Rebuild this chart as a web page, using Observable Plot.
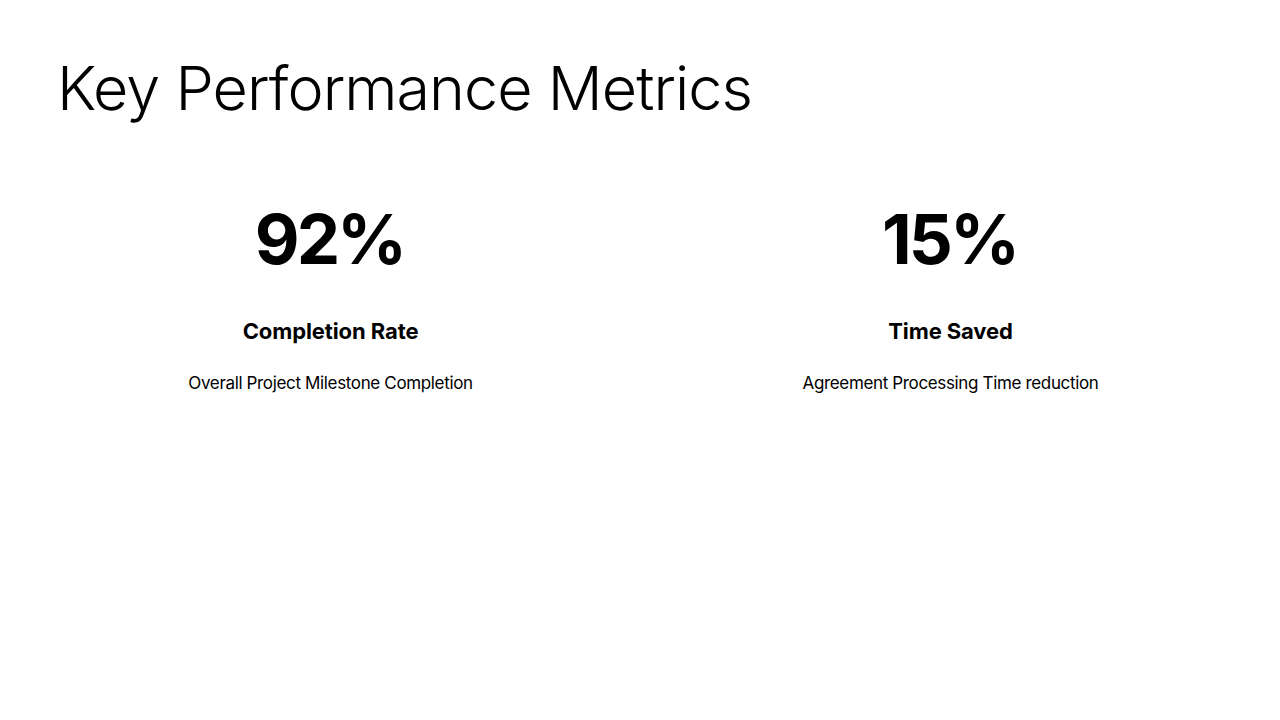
<!DOCTYPE html>
<html>
<head>
<meta charset="utf-8">
<script src="https://cdn.jsdelivr.net/npm/d3@7"></script>
<script src="https://cdn.jsdelivr.net/npm/@observablehq/plot@0.6"></script>
<style>
  html, body { margin: 0; padding: 0; background: #fff; }
  #wrap { position: relative; width: 1280px; height: 720px; overflow: hidden; font-family: Inter, "Noto Sans", sans-serif; }
  h1 { position: absolute; left: 57px; top: 58px; margin: 0; font-size: 61px; line-height: 1; font-weight: 300; color: #000; letter-spacing: -0.95px; white-space: nowrap; }
  #chart { position: absolute; left: 0; top: 0; }
  .kpi-value text { letter-spacing: -3px; }
  .kpi-label text { letter-spacing: -0.1px; }
  .kpi-desc text { letter-spacing: -0.35px; }
</style>
</head>
<body>
<div id="wrap">
  <h1 id="title">Key Performance Metrics</h1>
  <div id="chart"></div>
</div>
<script>
const titleText = "Key Performance Metrics";
const metricLabels = ["Completion Rate", "Time Saved"];
const metricValues = [92, 15];
const metricUnits = ["%", "%"];
const metricDescriptions = ["Overall Project Milestone Completion", "Agreement Processing Time reduction"];

document.getElementById("title").textContent = titleText;

const rows = metricLabels.map((label, i) => ({
  label,
  value: `${metricValues[i]}${metricUnits[i]}`,
  desc: metricDescriptions[i]
}));

const chart = Plot.plot({
  width: 1280,
  height: 720,
  marginTop: 0,
  marginBottom: 0,
  marginLeft: 20,
  marginRight: 20,
  style: { fontFamily: "Inter, 'Noto Sans', sans-serif", background: "transparent", overflow: "visible" },
  x: { type: "point", domain: metricLabels, padding: 0.5, axis: null },
  marks: [
    Plot.text(rows, {
      x: "label", text: "value", frameAnchor: "top", lineAnchor: "bottom",
      dy: 263, dx: -1, fontSize: 69, fontWeight: 700, fill: "#000", className: "kpi-value"
    }),
    Plot.text(rows, {
      x: "label", text: "label", frameAnchor: "top", lineAnchor: "bottom",
      dy: 338, fontSize: 22, fontWeight: 700, fill: "#000", className: "kpi-label"
    }),
    Plot.text(rows, {
      x: "label", text: "desc", frameAnchor: "top", lineAnchor: "bottom",
      dy: 388, fontSize: 17, fontWeight: 400, fill: "#000", className: "kpi-desc"
    })
  ]
});
document.getElementById("chart").appendChild(chart);
</script>
</body>
</html>
